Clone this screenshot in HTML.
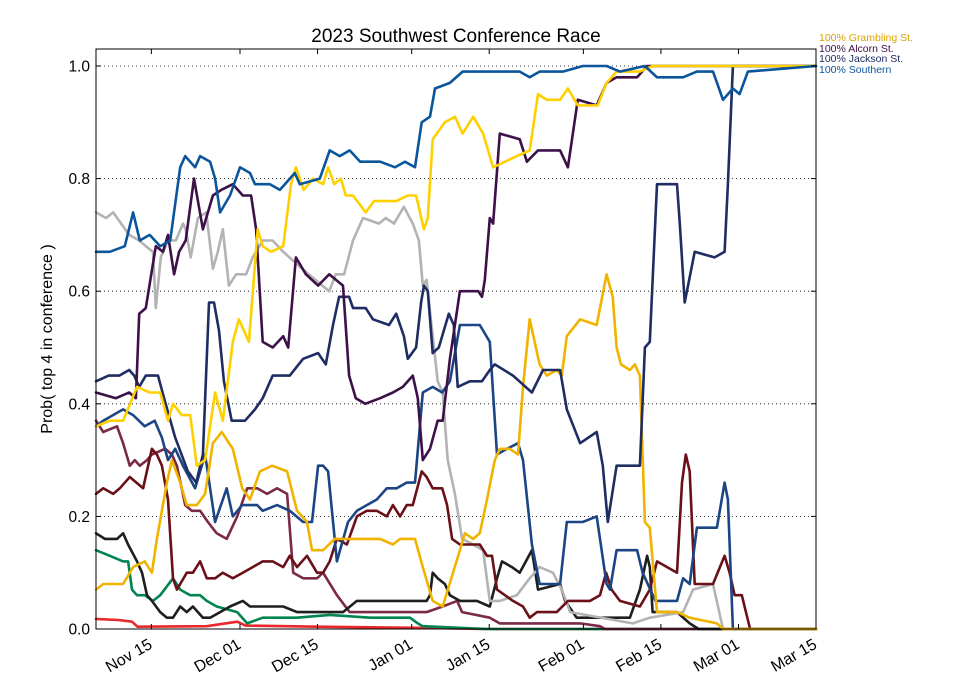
<!DOCTYPE html>
<html><head><meta charset="utf-8"><style>
html,body{margin:0;padding:0;background:#fff;}
svg{display:block;font-family:"Liberation Sans","DejaVu Sans",sans-serif;}
</style></head><body>
<svg id="chart" width="960" height="700" viewBox="0 0 960 700">
<rect x="0" y="0" width="960" height="700" fill="#fff"/>
<text x="456" y="42" font-size="19" text-anchor="middle" fill="#000">2023 Southwest Conference Race</text>
<text transform="translate(52,339) rotate(-90)" font-size="16" text-anchor="middle" fill="#000">Prob( top 4 in conference )</text>
<g id="grid"></g>
<g id="series"></g>
<rect x="96" y="49" width="720" height="580" fill="none" stroke="#000" stroke-width="1"/>
<g id="yticks"></g>
<g id="xticks"></g>
<g font-size="10.5">
<text x="819" y="41" fill="#d9a400">100% Grambling St.</text>
<text x="819" y="52" fill="#3d1048">100% Alcorn St.</text>
<text x="819" y="62" fill="#1f2d63">100% Jackson St.</text>
<text x="819" y="73" fill="#0a559c">100% Southern</text>
</g>
</svg>
<script>
// x in days since Nov 05, y probability
const xTickDays = [10, 26, 40, 57, 71, 88, 102, 116, 130];
const xTickLabels = ["Nov 15", "Dec 01", "Dec 15", "Jan 01", "Jan 15", "Feb 01", "Feb 15", "Mar 01", "Mar 15"];
const yTickVals = [0, 0.2, 0.4, 0.6, 0.8, 1.0];
const yTickLabels = ["0.0", "0.2", "0.4", "0.6", "0.8", "1.0"];

const redDays = [0, 4, 6.5, 7.5, 20, 25.5, 27, 40, 60, 70, 130];
const redVals = [.018, .016, .013, .004, .005, .013, .006, .004, .002, 0, 0];

const greenDays = [0, 2.5, 4.9, 5.8, 6.5, 7.4, 8.8, 10.3, 11.6, 13.9, 15.2, 17.0, 18.8, 20.0, 21.8, 25.5, 27.3, 30.1, 36.3, 42.2, 49.5, 56.7, 58.1, 59.0, 70.6, 130];
const greenVals = [.14, .13, .12, .12, .07, .06, .06, .05, .06, .09, .07, .06, .06, .05, .04, .03, .01, .02, .02, .025, .02, .02, .01, .005, 0, 0];

const roseDays = [0, 1.3, 3.8, 4.9, 6.1, 7.0, 7.9, 9.2, 10.1, 12.5, 13.7, 14.6, 16.1, 17.3, 18.8, 20.2, 21.8, 23.6, 25.5, 27.3, 29.1, 30.9, 32.7, 34.5, 35.6, 37.4, 39.9, 41.0, 43.5, 45.8, 54.9, 58.5, 59.7, 62.6, 65.2, 66.1, 71.1, 72.9, 87.4, 91, 91.9, 130];
const roseVals = [.37, .35, .36, .33, .29, .30, .29, .30, .31, .32, .31, .29, .22, .21, .21, .19, .17, .16, .20, .25, .25, .24, .25, .24, .10, .09, .09, .10, .06, .03, .03, .03, .03, .04, .05, .03, .02, .01, .01, .005, 0, 0];

const blackDays = [0, 1.6, 3.8, 4.9, 5.8, 7.4, 8.3, 9.2, 10.1, 11.6, 12.8, 13.9, 15.2, 16.4, 17.5, 19.3, 20.6, 22.4, 24.2, 26.5, 27.8, 30.1, 33.8, 36.3, 39.9, 42.2, 44.6, 47.1, 51.8, 56.1, 59.7, 60.3, 60.8, 61.7, 63.0, 63.9, 65.7, 68.8, 71.1, 72.4, 73.3, 75.1, 76.5, 78.7, 79.8, 83.8, 84.7, 86.8, 96.4, 98.2, 99.5, 100, 100.5, 104.9, 107.2, 108.8, 130];
const blackVals = [.17, .16, .16, .17, .15, .12, .10, .06, .05, .03, .02, .02, .04, .03, .04, .02, .02, .03, .04, .05, .04, .04, .04, .03, .03, .03, .03, .05, .05, .05, .05, .06, .10, .09, .08, .06, .05, .05, .04, .09, .12, .11, .10, .14, .07, .08, .05, .02, .02, .07, .13, .11, .03, .03, .01, 0, 0];

const maroonDays = [0, 1.3, 3.1, 4.3, 6.1, 8.5, 10.1, 11.0, 11.9, 13.0, 13.9, 14.6, 16.4, 17.5, 18.8, 20.0, 21.5, 22.9, 24.7, 26.5, 28.3, 30.1, 31.9, 33.8, 35.0, 36.3, 38.1, 39.9, 41.0, 42.2, 43.5, 45.3, 47.1, 48.9, 50.7, 52.5, 53.6, 54.9, 56.1, 57.2, 58.8, 59.7, 60.8, 62.5, 63.4, 64.3, 65.7, 69.3, 70.6, 71.5, 72.4, 75.3, 77.1, 78.3, 79.6, 83.2, 85.2, 89.2, 91, 92.1, 93.1, 94.6, 98.2, 100, 101.3, 104.9, 105.8, 106.5, 107.2, 108.1, 111.4, 113.5, 114.4, 115.3, 116.6, 118.1, 130];
const maroonVals = [.24, .25, .24, .25, .27, .25, .32, .31, .29, .23, .09, .07, .10, .10, .12, .09, .09, .10, .09, .10, .11, .12, .12, .11, .13, .11, .13, .10, .10, .12, .16, .15, .20, .21, .21, .20, .22, .20, .22, .22, .28, .27, .25, .25, .22, .16, .15, .15, .13, .13, .07, .05, .04, .02, .03, .03, .05, .05, .06, .10, .07, .05, .04, .07, .12, .10, .26, .31, .28, .08, .08, .13, .10, .06, .06, 0, 0];

const grayDays = [0, 1.8, 3.1, 6.0, 7.8, 9.0, 10.3, 10.8, 11.7, 13.0, 14.4, 15.7, 16.2, 17.1, 18.4, 19.9, 21.1, 22.0, 22.9, 24.0, 25.3, 27.1, 28.3, 30.1, 31.9, 33.8, 36.1, 38.4, 42.1, 43.3, 44.8, 46.4, 48.2, 51.1, 52.3, 53.8, 55.6, 57.2, 58.3, 59.0, 59.7, 60.8, 61.7, 62.6, 63.5, 64.8, 66.1, 68.1, 69.9, 71.1, 72.9, 76.0, 78.3, 80.1, 82.5, 84.1, 85.6, 96.9, 100, 106, 107.8, 111.4, 112.3, 113.2, 130];
const grayVals = [.74, .73, .74, .70, .69, .68, .67, .57, .66, .69, .69, .72, .71, .66, .73, .74, .64, .67, .71, .61, .63, .63, .66, .69, .69, .67, .65, .63, .60, .63, .63, .69, .73, .72, .73, .72, .75, .72, .69, .61, .62, .52, .44, .42, .30, .24, .16, .15, .14, .05, .05, .06, .09, .11, .10, .07, .03, .01, .02, .03, .07, .08, .04, 0, 0];

const navyDays = [0, 1.3, 4.9, 6.7, 8.8, 10.6, 11.9, 13.0, 14.3, 15.7, 17.9, 19.7, 21.5, 23.6, 24.7, 26.4, 29.1, 30.1, 32.7, 35.0, 37.4, 39.0, 40.1, 41.0, 41.9, 43.5, 45.5, 47.1, 48.9, 50.7, 52.5, 54.3, 56.1, 57.6, 59.0, 60.8, 62.5, 63.9, 65.7, 69.3, 71.1, 72.4, 74.2, 76.2, 77.1, 78.7, 80.1, 83.8, 85.0, 87.9, 90.4, 92.2, 92.8, 94.0, 97.7, 98.7, 101, 104.9, 106, 107.2, 108.5, 112.1, 113.5, 114.1, 115, 130];
const navyVals = [.36, .37, .39, .38, .36, .37, .34, .30, .32, .29, .25, .31, .19, .25, .20, .22, .22, .21, .22, .21, .19, .19, .29, .29, .28, .12, .19, .21, .22, .23, .25, .25, .26, .26, .42, .43, .42, .44, .54, .54, .51, .31, .32, .33, .30, .15, .08, .08, .19, .19, .20, .08, .07, .14, .14, .10, .05, .05, .09, .08, .18, .18, .26, .23, 0, 0];

const goldDays = [0, 1.3, 4.9, 6.7, 8.8, 10.1, 11.0, 12.8, 13.7, 15.2, 16.4, 18.2, 19.7, 21.1, 22.7, 24.7, 26.4, 27.8, 29.6, 31.8, 34.5, 36.3, 38.1, 39.0, 41.0, 43.1, 45.8, 51.3, 53.6, 54.9, 57.6, 59.0, 60.8, 62.6, 65.7, 66.6, 68.1, 69.3, 70.6, 72.0, 72.9, 74.7, 76.2, 77.1, 78.3, 80.1, 81.4, 83.2, 84.1, 85.0, 87.4, 90.4, 92.2, 93.3, 94.0, 94.8, 96.4, 97.3, 98.2, 99.1, 100.0, 101.3, 104.9, 107.2, 112.1, 113.2, 130];
const goldVals = [.07, .08, .08, .11, .12, .10, .16, .26, .30, .26, .22, .22, .24, .33, .35, .32, .25, .23, .28, .29, .28, .21, .19, .14, .14, .16, .16, .16, .15, .16, .16, .11, .05, .04, .14, .17, .16, .17, .23, .30, .32, .32, .31, .43, .55, .47, .45, .46, .45, .52, .55, .54, .63, .59, .50, .47, .46, .47, .45, .19, .18, .03, .03, .02, .01, 0, 0];

const jacksonDays = [0, 2.3, 4.2, 6.0, 6.9, 7.8, 9.0, 11.2, 12.3, 14.3, 16.6, 18.1, 19.3, 20.4, 21.3, 22.2, 23.1, 24.5, 26.9, 28.7, 30.1, 31.9, 35.0, 37.4, 40.1, 41.5, 42.8, 43.9, 45.7, 46.4, 48.7, 50.0, 52.9, 54.2, 55.6, 56.3, 57.8, 58.7, 59.2, 59.9, 60.8, 61.9, 63.7, 64.6, 65.3, 67.5, 69.7, 71.1, 72.0, 75.3, 78.7, 80.7, 83.8, 85.0, 87.4, 90.4, 91.5, 92.4, 94.0, 98.2, 99.1, 100.0, 101.3, 104.9, 105.4, 106.3, 108.1, 111.7, 113.5, 114.1, 115.0, 130];
const jacksonVals = [.44, .45, .45, .46, .45, .43, .45, .45, .41, .34, .28, .26, .31, .58, .58, .53, .44, .37, .37, .39, .41, .45, .45, .48, .49, .47, .54, .59, .59, .57, .57, .55, .54, .56, .52, .48, .50, .58, .61, .60, .49, .50, .56, .54, .43, .44, .44, .46, .47, .45, .42, .46, .46, .39, .33, .35, .29, .19, .29, .29, .50, .51, .79, .79, .72, .58, .67, .66, .67, .79, 1.0, 1.0];

const alcornDays = [0, 3.6, 6.0, 7.2, 7.8, 9.0, 10.8, 12.1, 13.0, 14.1, 15.0, 16.2, 17.7, 19.3, 21.1, 22.6, 24.7, 26.5, 28.0, 28.9, 30.1, 31.9, 33.8, 34.7, 36.1, 37.9, 40.1, 42.1, 44.6, 45.7, 46.9, 48.6, 51.3, 53.6, 55.4, 57.2, 58.1, 59.0, 60.3, 61.7, 62.6, 63.9, 65.7, 69.0, 69.7, 70.2, 71.1, 71.7, 72.9, 76.5, 77.8, 79.8, 83.8, 85.2, 87.0, 90.4, 92.2, 94.0, 97.7, 99.5, 130];
const alcornVals = [.42, .41, .42, .41, .56, .57, .68, .67, .70, .63, .67, .69, .80, .71, .77, .78, .79, .77, .77, .71, .51, .50, .52, .50, .66, .63, .61, .63, .61, .45, .41, .40, .41, .42, .43, .45, .41, .30, .32, .37, .37, .48, .60, .60, .59, .62, .73, .72, .88, .87, .83, .85, .85, .82, .94, .93, .97, .98, .98, 1.0, 1.0];

const gramblingDays = [0, 2.5, 4.9, 7.4, 9.7, 11.6, 13.0, 13.9, 15.5, 17.0, 18.2, 19.7, 21.5, 22.9, 24.7, 25.8, 27.6, 29.2, 30.1, 31.6, 33.8, 35.2, 36.1, 37.5, 39.2, 41.0, 41.9, 43.0, 44.2, 45.1, 46.4, 48.7, 50.2, 54.2, 56.3, 57.8, 59.2, 59.9, 60.8, 63.0, 64.8, 66.2, 68.1, 69.9, 71.7, 76.0, 78.3, 79.8, 81.4, 83.8, 85.2, 87.0, 89.2, 90.6, 92.2, 94.0, 98.2, 100.5, 130];
const gramblingVals = [.36, .37, .37, .43, .42, .42, .37, .40, .38, .38, .29, .30, .42, .37, .51, .55, .51, .71, .68, .67, .68, .79, .82, .78, .80, .79, .82, .79, .80, .77, .77, .74, .76, .76, .77, .77, .71, .73, .87, .90, .91, .88, .91, .88, .82, .84, .85, .95, .94, .94, .96, .93, .93, .93, .97, .99, .99, 1.0, 1.0];

const southernDays = [0, 2.5, 5.2, 6.7, 7.9, 9.7, 11.6, 13.4, 15.2, 16.1, 17.9, 18.8, 20.6, 21.5, 22.4, 24.2, 26.0, 27.8, 28.7, 31.4, 33.2, 35.9, 36.8, 40.4, 42.2, 44.0, 45.8, 47.7, 51.3, 54.0, 55.8, 57.6, 58.8, 60.3, 61.2, 63.9, 66.2, 69.9, 71.7, 76.5, 78.3, 80.1, 84.3, 87.9, 92.2, 94.6, 99.1, 101.3, 106.0, 108.5, 111.4, 113.2, 115.0, 116.2, 117.7, 130];
const southernVals = [.67, .67, .68, .74, .69, .70, .68, .69, .82, .84, .82, .84, .83, .80, .74, .77, .82, .81, .79, .79, .78, .81, .79, .80, .85, .84, .85, .83, .83, .82, .83, .82, .90, .91, .96, .97, .99, .99, .99, .99, .98, .99, .99, 1.0, 1.0, .99, 1.0, .98, .98, .99, .99, .94, .96, .95, .99, 1.0];

const X0 = 96, X1 = 816, Y0 = 629, Y1 = 66, DMAX = 130;
function xScale(d) { return X0 + (X1 - X0) * d / DMAX; }
function yScale(v) { return Y0 - (Y0 - Y1) * v; }
const NS = "http://www.w3.org/2000/svg";

const grid = document.getElementById("grid");
const yt = document.getElementById("yticks");
yTickVals.forEach(function (v, i) {
  const y = yScale(v);
  if (v > 0) {
    const gl = document.createElementNS(NS, "line");
    gl.setAttribute("x1", X0); gl.setAttribute("x2", X1);
    gl.setAttribute("y1", y); gl.setAttribute("y2", y);
    gl.setAttribute("stroke", "#000"); gl.setAttribute("stroke-width", "0.8");
    gl.setAttribute("stroke-dasharray", "1,3");
    
    
    grid.appendChild(gl);
  }
  [[X0, X0 + 5], [X1 - 5, X1]].forEach(function (p) {
    const tk = document.createElementNS(NS, "line");
    tk.setAttribute("x1", p[0]); tk.setAttribute("x2", p[1]);
    tk.setAttribute("y1", y); tk.setAttribute("y2", y);
    tk.setAttribute("stroke", "#000"); tk.setAttribute("stroke-width", "1");
    
    
    yt.appendChild(tk);
  });
  const t = document.createElementNS(NS, "text");
  t.setAttribute("x", 90); t.setAttribute("y", y + 5.5);
  t.setAttribute("text-anchor", "end"); t.setAttribute("font-size", "15.5");
  t.textContent = yTickLabels[i];
  
  
  yt.appendChild(t);
});

const xt = document.getElementById("xticks");
xTickDays.forEach(function (d, i) {
  const x = xScale(d);
  [[Y0, Y0 - 5], [49, 54]].forEach(function (p) {
    const tk = document.createElementNS(NS, "line");
    tk.setAttribute("x1", x); tk.setAttribute("x2", x);
    tk.setAttribute("y1", p[0]); tk.setAttribute("y2", p[1]);
    tk.setAttribute("stroke", "#000"); tk.setAttribute("stroke-width", "1");
    
    
    xt.appendChild(tk);
  });
  const t = document.createElementNS(NS, "text");
  t.setAttribute("transform", "translate(" + (x - 4) + ",637) rotate(-30)");
  t.setAttribute("text-anchor", "end"); t.setAttribute("font-size", "16");
  t.setAttribute("dy", "0.75em");
  t.textContent = xTickLabels[i];
  
  
  xt.appendChild(t);
});

const seriesList = [
  ["red-series", redDays, redVals, "#e8282a"],
  ["green-series", greenDays, greenVals, "#008550"],
  ["rose-series", roseDays, roseVals, "#7a2a48"],
  ["black-series", blackDays, blackVals, "#1e1e1e"],
  ["gray-series", grayDays, grayVals, "#b3b3b3"],
  ["maroon-series", maroonDays, maroonVals, "#6a1018"],
  ["navy-series", navyDays, navyVals, "#1c4585"],
  ["gold-series", goldDays, goldVals, "#f0b400"],
  ["jackson-st-line", jacksonDays, jacksonVals, "#1f2d63"],
  ["alcorn-st-line", alcornDays, alcornVals, "#3d1048"],
  ["grambling-st-line", gramblingDays, gramblingVals, "#ffd000"],
  ["southern-line", southernDays, southernVals, "#0a559c"]
];
const sg = document.getElementById("series");
seriesList.forEach(function (s) {
  const days = s[1], vals = s[2];
  let d = "";
  for (let i = 0; i < days.length; i++) {
    d += (i ? "L" : "M") + xScale(days[i]).toFixed(1) + "," + yScale(vals[i]).toFixed(1);
  }
  const p = document.createElementNS(NS, "path");
  p.setAttribute("d", d);
  p.setAttribute("fill", "none");
  p.setAttribute("stroke", s[3]);
  p.setAttribute("stroke-width", "2.6");
  p.setAttribute("stroke-linejoin", "round");
  p.setAttribute("stroke-linecap", "round");
  
  
  sg.appendChild(p);
});
</script>
</body></html>
